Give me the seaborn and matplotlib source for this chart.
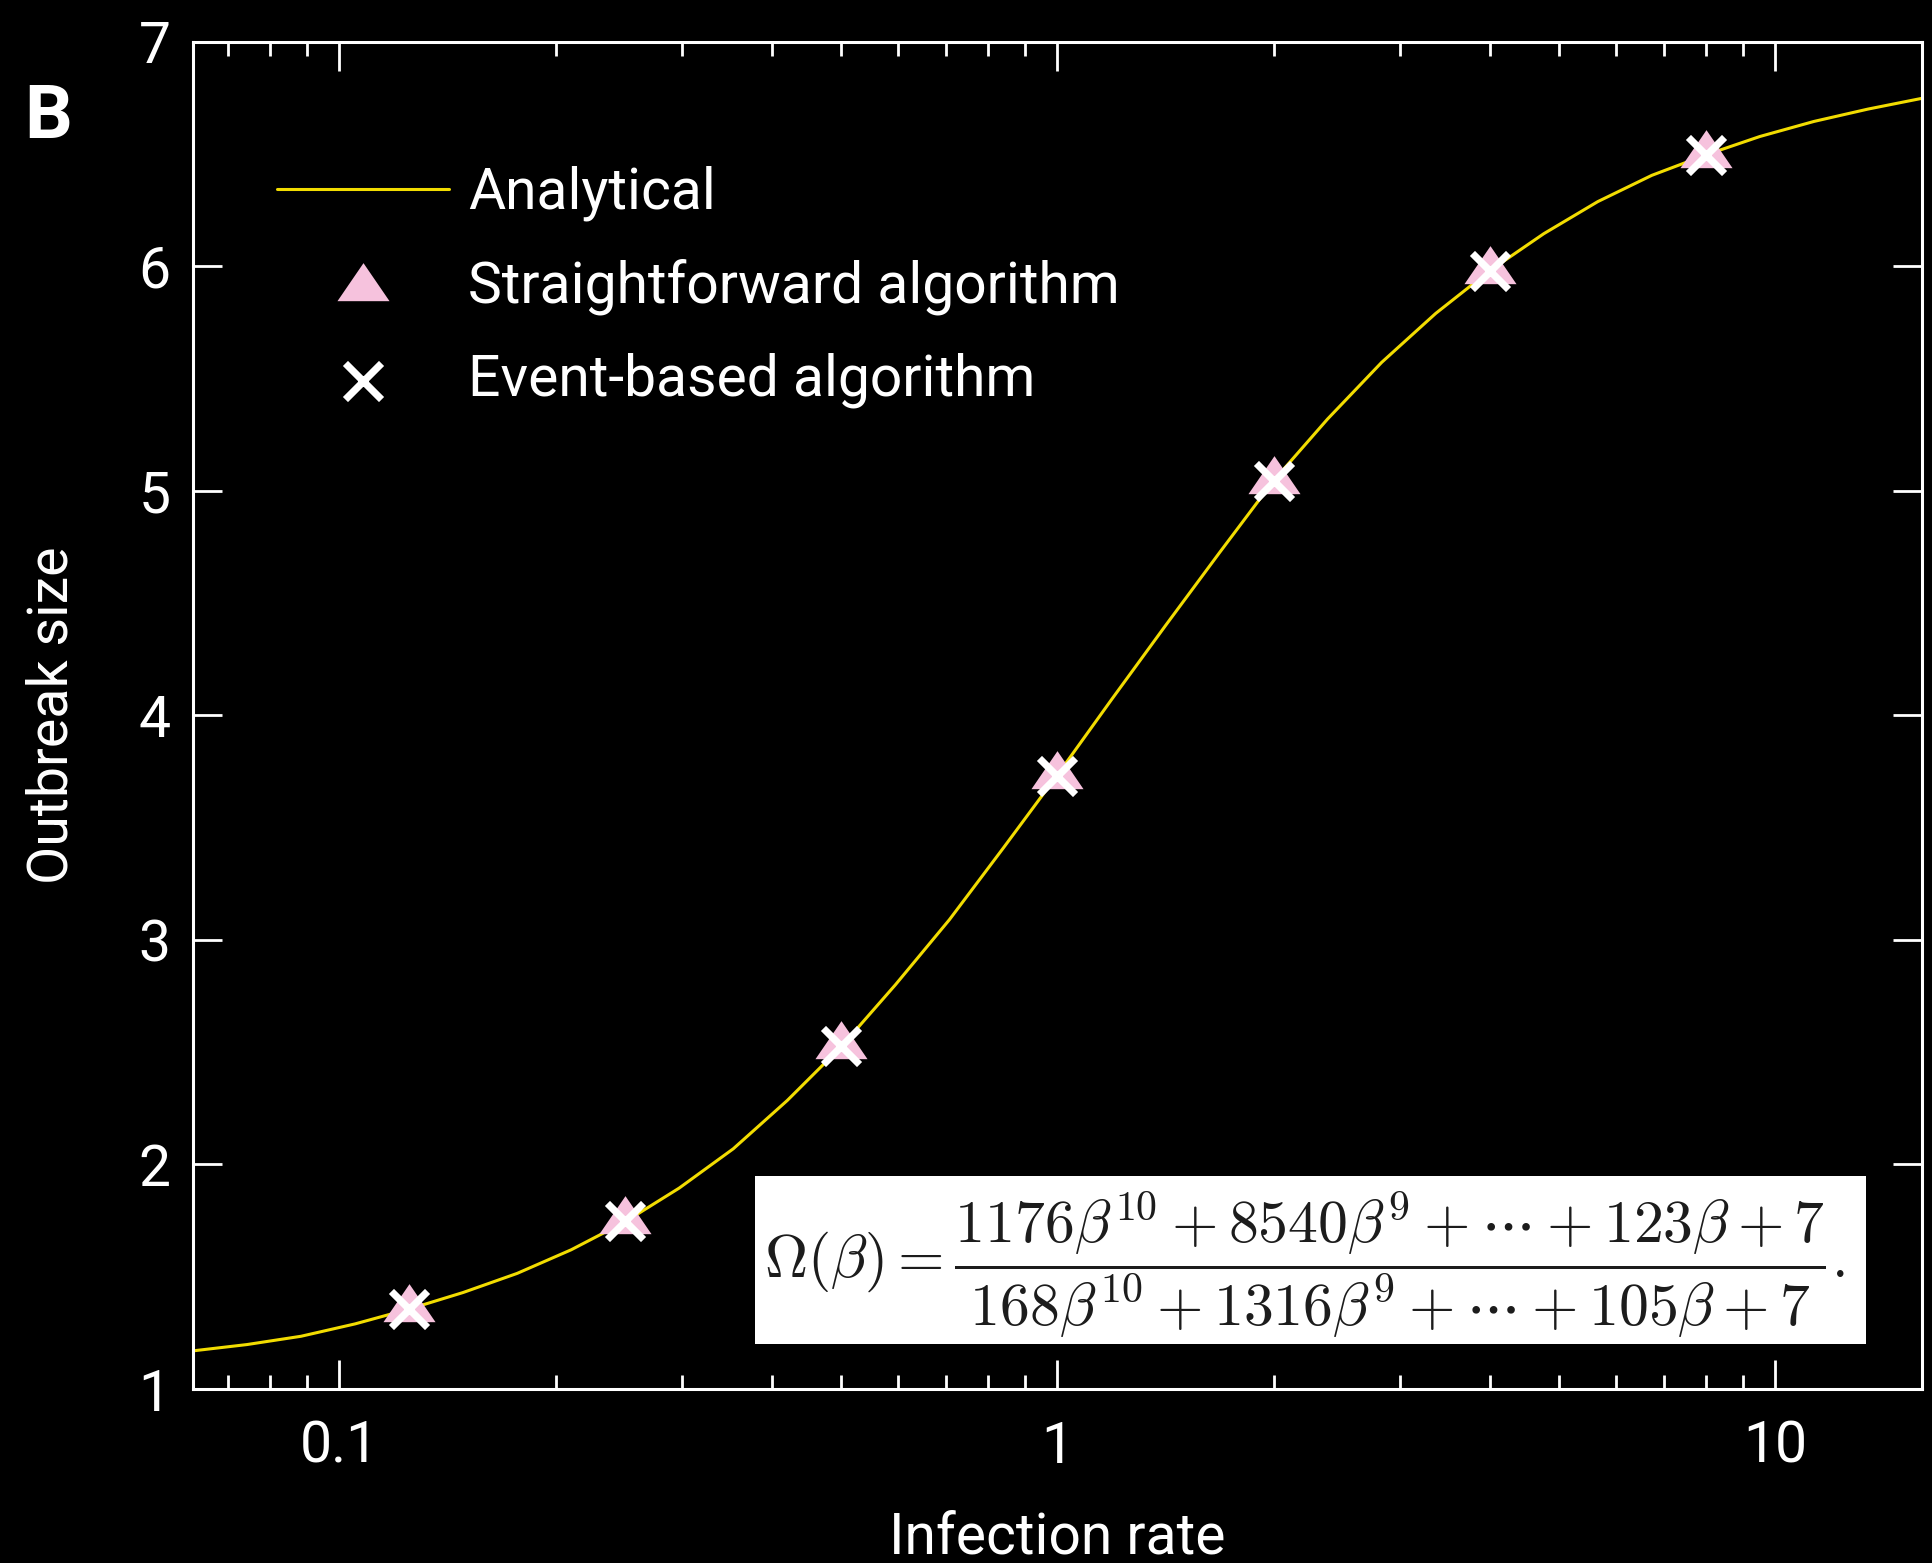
import numpy as np
import pandas as pd
import matplotlib
matplotlib.use('Agg')
import matplotlib.pyplot as plt
from matplotlib.patches import Rectangle
import seaborn as sns

# analytical curve at x = 2^(j/4), j = -16..16
curve_x = [0.0625, 0.0743, 0.0884, 0.1051, 0.125, 0.1487, 0.1768, 0.2102,
           0.25, 0.2973, 0.3536, 0.4204, 0.5, 0.5946, 0.7071, 0.8409, 1.0,
           1.1892, 1.4142, 1.6818, 2.0, 2.3784, 2.8284, 3.3636, 4.0, 4.7568,
           5.6569, 6.7272, 8.0, 9.5137, 11.3137, 13.4543, 16.0]
curve_y = [1.170, 1.198, 1.235, 1.290, 1.356, 1.430, 1.515, 1.620,
           1.745, 1.895, 2.070, 2.285, 2.525, 2.800, 3.090, 3.410, 3.735,
           4.070, 4.400, 4.725, 5.045, 5.320, 5.572, 5.790, 5.980, 6.145,
           6.288, 6.405, 6.496, 6.578, 6.645, 6.700, 6.748]

# simulation points
rate = [0.125, 0.25, 0.5, 1, 2, 4, 8]
straightforward = [1.358, 1.748, 2.527, 3.731, 5.046, 5.980, 6.496]
event_based = [1.358, 1.748, 2.527, 3.731, 5.046, 5.980, 6.496]

x_ticks = [0.1, 1, 10]
x_tick_labels = ['0.1', '1', '10']
y_ticks = [1, 2, 3, 4, 5, 6, 7]

curve = pd.DataFrame({'rate': curve_x, 'size': curve_y})
sims = pd.DataFrame({'rate': rate, 'sf': straightforward, 'ev': event_based})

sns.set_style('ticks')
plt.rcParams['font.family'] = ['Roboto', 'DejaVu Sans']
plt.rcParams['mathtext.fontset'] = 'cm'

fg = 'white'
fig, ax = plt.subplots(figsize=(19.33, 15.63), dpi=100)
fig.patch.set_facecolor('black')
ax.set_facecolor('black')
fig.subplots_adjust(left=0.0998, right=0.9943, top=0.9733, bottom=0.1113)

# flat triangle, centred on its centroid
tri = [(0, 0.974), (-1, -0.487), (1, -0.487), (0, 0.974)]

sns.lineplot(data=curve, x='rate', y='size', color='#f2dc00', linewidth=2.2,
             label='Analytical', ax=ax, zorder=1)
sns.scatterplot(data=sims, x='rate', y='sf', marker=tri, s=37.5**2,
                color='#f6c2dd', linewidth=0, label='Straightforward algorithm',
                ax=ax, zorder=2)
sns.scatterplot(data=sims, x='rate', y='ev', marker='x', s=26**2,
                color='white', linewidth=5.2, label='Event-based algorithm',
                ax=ax, zorder=3)

ax.set_xscale('log')
ax.set_xlim(0.0625, 16)
ax.set_ylim(1, 7)
ax.set_xticks(x_ticks)
ax.set_xticklabels(x_tick_labels)
ax.set_yticks(y_ticks)

for s in ax.spines.values():
    s.set_color(fg)
    s.set_linewidth(2.2)
ax.tick_params(which='both', direction='in', top=True, right=True,
               colors=fg, width=2.0)
ax.tick_params(which='major', length=21, labelsize=41, pad=16)
ax.tick_params(axis='x', which='major', pad=22)
ax.tick_params(which='minor', length=10)

ax.set_xlabel('Infection rate', fontsize=41, color=fg)
ax.set_ylabel('Outbreak size', fontsize=40, color=fg)
ax.xaxis.set_label_coords(0.5, -0.0904)
ax.yaxis.set_label_coords(-0.066, 0.5)

leg = ax.legend(loc='upper left', bbox_to_anchor=(0.0486, 0.908),
                frameon=False, fontsize=41, handlelength=3.02,
                handletextpad=0.34, labelspacing=0.66, borderpad=0,
                borderaxespad=0)
for t in leg.get_texts():
    t.set_color(fg)

# formula box
ax.add_patch(Rectangle((0.325, 0.0334), 0.6426, 0.1245, transform=ax.transAxes,
                       facecolor='white', edgecolor='none', zorder=4))
ax.text(0.643, 0.092,
        r'$\Omega(\beta) = \dfrac{1176\beta^{10} + 8540\beta^{9} + \cdots + 123\beta + 7}'
        r'{168\beta^{10} + 1316\beta^{9} + \cdots + 105\beta + 7}.$',
        transform=ax.transAxes, ha='center', va='center', fontsize=43,
        color='#1c1c1c', zorder=5)

fig.text(0.0124, 0.9117, 'B', fontsize=54, fontweight='bold', color=fg,
         va='baseline', ha='left')

fig.savefig('out.png', dpi=100, facecolor='black')
